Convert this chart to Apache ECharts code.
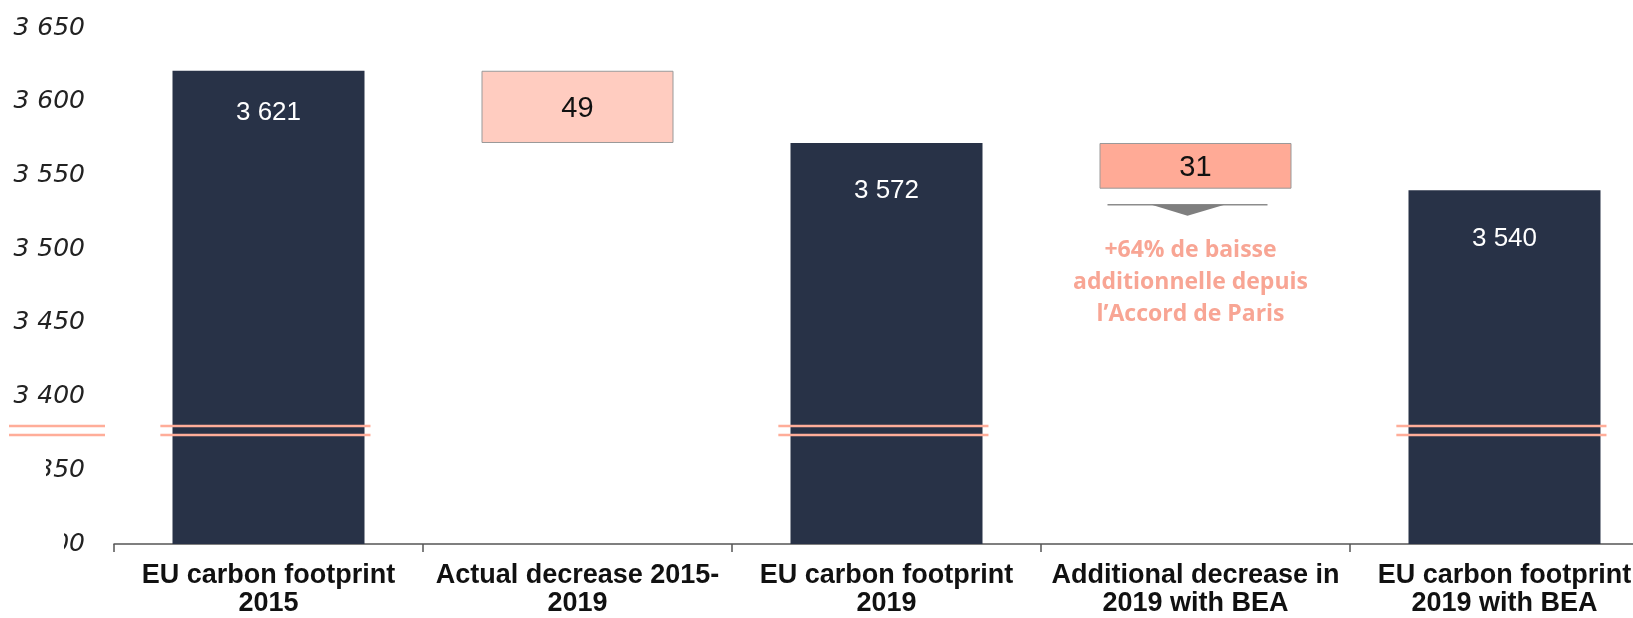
<!DOCTYPE html>
<html>
<head>
<meta charset="utf-8">
<script src="https://cdn.jsdelivr.net/npm/echarts@6/dist/echarts.min.js"></script>
<style>
html,body{margin:0;padding:0;background:#fff;overflow:hidden;width:1633px;height:618px;}
#chart{width:1660px;height:618px;}
</style>
</head>
<body>
<div id="chart"></div>
<script>
const categories = [
  'EU carbon footprint\n2015',
  'Actual decrease 2015-\n2019',
  'EU carbon footprint\n2019',
  'Additional decrease in\n2019 with BEA',
  'EU carbon footprint\n2019 with BEA'
];
const totals = [3621, '-', 3572, '-', 3540];
const stepBase = ['-', 3572, '-', 3541, '-'];
const stepValues = ['-', 49, '-', 31, '-'];
const yMin = 3300;
const yMax = 3650;
const yStep = 50;
const breakValue = 3377;
const breakCategories = [0, 2, 4];
const annotationCategory = 3;
const annotationValue = 3541;
const annotationText = '+64% de baisse\nadditionnelle depuis\nl\u2019Accord de Paris';

// styling
const DARK = '#283247';
const STEP_COLORS = {1: '#FFCCC0', 3: '#FFAA96'};
const BREAK_COLOR = '#FFAD99';
const TOTAL_LABEL_DIST = [29, 0, 35, 0, 36];

function fmt(v) {
  return String(v).replace(/\B(?=(\d{3})+(?!\d))/g, ' ');
}

const chart = echarts.init(document.getElementById('chart'));
chart.setOption({
  animation: false,
  grid: {left: 114, top: 28, width: 1545, bottom: 72},
  xAxis: {
    type: 'category',
    data: categories,
    axisLine: {lineStyle: {color: '#555', width: 1.5}},
    axisTick: {show: true, alignWithLabel: false, length: 8, lineStyle: {color: '#555', width: 1.5}},
    axisLabel: {
      color: '#111', fontFamily: 'Liberation Sans, Arial, sans-serif', fontWeight: 'bold',
      fontSize: 27, lineHeight: 28, margin: 18, interval: 0
    }
  },
  yAxis: {
    type: 'value', min: yMin, max: yMax, interval: yStep,
    splitLine: {show: false}, axisLine: {show: false}, axisTick: {show: false},
    axisLabel: {
      formatter: v => fmt(v), color: '#222', fontFamily: 'DejaVu Sans, sans-serif',
      fontStyle: 'italic', fontSize: 25, margin: 29
    }
  },
  series: [
    {
      type: 'bar', stack: 'w', data: stepBase, barWidth: 192,
      itemStyle: {color: 'transparent'}, silent: true
    },
    {
      type: 'bar', stack: 'w', data: stepValues, barWidth: 192,
      itemStyle: {
        color: p => STEP_COLORS[p.dataIndex] || '#FFCCC0',
        borderColor: '#999', borderWidth: 1
      },
      label: {
        show: true, position: 'inside', offset: [0, 2], color: '#111', fontSize: 29,
        fontFamily: 'Liberation Sans, Arial, sans-serif', formatter: p => fmt(p.value)
      }
    },
    {
      type: 'bar',
      data: totals.map((v, i) => ({value: v, label: {distance: TOTAL_LABEL_DIST[i]}})),
      barWidth: 192, barGap: '-100%',
      itemStyle: {color: DARK},
      label: {
        show: true, position: 'insideTop', color: '#fff', fontSize: 26,
        fontFamily: 'Liberation Sans, Arial, sans-serif', formatter: p => fmt(p.value)
      }
    },
    {
      type: 'custom', silent: true, z: 10,
      data: breakCategories.map(c => [c, breakValue]),
      renderItem: function (params, api) {
        const p = api.coord([api.value(0), api.value(1)]);
        const bw = api.size([1, 0])[0];
        const children = [];
        const segs = [[p[0] - bw * 0.35, p[0] + bw * 0.33]];
        if (params.dataIndex === 0) {
          const cx = params.coordSys.x;
          segs.push([cx - 105, cx - 9]);
        }
        segs.forEach(s => {
          [-4.5, 4.5].forEach(dy => {
            children.push({
              type: 'line',
              shape: {x1: s[0], y1: p[1] + dy, x2: s[1], y2: p[1] + dy},
              style: {stroke: BREAK_COLOR, lineWidth: 2.5}
            });
          });
        });
        return {type: 'group', children: children};
      }
    },
    {
      type: 'custom', silent: true, z: 10,
      data: [[annotationCategory, annotationValue]],
      renderItem: function (params, api) {
        const p = api.coord([api.value(0), api.value(1)]);
        const y = p[1] + 16;
        const cx = p[0] - 8;
        return {
          type: 'group',
          children: [
            {type: 'line', shape: {x1: cx - 80, y1: y, x2: cx + 80, y2: y},
             style: {stroke: '#8c8c8c', lineWidth: 1.5}},
            {type: 'polygon', shape: {points: [[cx - 36, y], [cx + 37, y], [cx, y + 11]]},
             style: {fill: '#7f7f7f'}},
            {type: 'text', x: cx + 3, y: y + 30,
             style: {text: annotationText, fill: '#F8A594', font: 'bold 23px "Open Sans", sans-serif',
                     align: 'center', verticalAlign: 'top', lineHeight: 32}}
          ]
        };
      }
    }
  ],
  graphic: [
    {type: 'rect', left: 0, top: 456, shape: {width: 46, height: 32}, style: {fill: '#fff'}, z: 100},
    {type: 'rect', left: 0, top: 530, shape: {width: 64, height: 32}, style: {fill: '#fff'}, z: 100}
  ]
});
</script>
</body>
</html>
